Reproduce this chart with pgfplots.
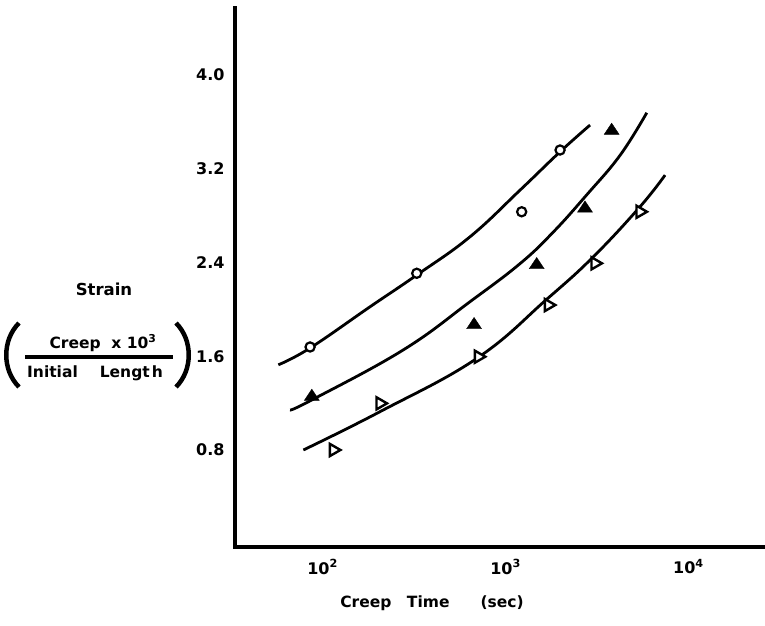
\documentclass[border=0pt]{standalone}
\usepackage{fontspec}
\setmainfont{DejaVu Sans}
\usepackage{pgfplots}
\pgfplotsset{compat=1.18}
\begin{document}
\begin{tikzpicture}[x=1pt,y=1pt]
\useasboundingbox (0,0) rectangle (765,625);
\begin{axis}[
  at={(235pt,78pt)}, anchor=south west,
  scale only axis, width=530pt, height=539pt,
  xmode=log, xmin=33.2, xmax=26200, ymin=-0.028, ymax=4.572,
  axis x line=bottom, axis y line=left,
  axis line style={-, line width=4.5pt, line cap=rect},
  xtick={100,1000,10000},
  xticklabels={10\textsuperscript{2},10\textsuperscript{3},10\textsuperscript{4}},
  ytick={0.8,1.6,2.4,3.2,4.0},
  yticklabels={0.8,1.6,2.4,3.2,4.0},
  tick style={draw=none}, major tick length=0pt, minor tick length=0pt,
  ticklabel style={font=\bfseries\fontsize{16}{18}\selectfont},
  yticklabel style={xshift=-7pt},
  xticklabel style={yshift=-9pt},
  clip=false,
]
% curves
\addplot[line width=2.8pt, smooth, tension=0.7] coordinates {
 (57.3,1.527) (85.4,1.670) (182,2.023) (327,2.293) (640,2.620) (1199,3.017) (1986,3.345) (2897,3.573)};
\addplot[line width=2.8pt, smooth, tension=0.7] coordinates {
 (66.4,1.141) (87.3,1.227) (276,1.654) (640,2.066) (1199,2.390) (1824,2.660) (2780,2.978) (4227,3.315) (5916,3.678)};
\addplot[line width=2.8pt, smooth, tension=0.7] coordinates {
 (78.5,0.800) (206,1.127) (697,1.582) (1679,2.086) (3020,2.449) (5433,2.876) (7447,3.146)};
% markers
\addplot[only marks, mark=*, mark size=4.6pt, mark options={draw=black, fill=white, line width=2.2pt}] coordinates {
 (85.4,1.679) (327,2.308) (1225,2.833) (1986,3.360)};
\addplot[only marks, mark=triangle*, mark size=7.5pt, mark options={draw=black, fill=black, xscale=1.15}] coordinates {
 (87.3,1.255) (673,1.867) (1480,2.379) (2718,2.862) (3802,3.525)};
\addplot[only marks, mark=triangle*, mark size=7pt, mark options={draw=black, fill=white, line width=2.4pt, rotate=-90}] coordinates {
 (114.6,0.80) (206,1.198) (710,1.596) (1714,2.037) (3083,2.393) (5433,2.833)};
\end{axis}
% y label
\node[font=\bfseries\fontsize{16.5}{18}\selectfont] at (104,336) {Strain};
\node[font=\bfseries\fontsize{15.5}{18}\selectfont] at (103,282) {Creep\ \ x\ 10\textsuperscript{3}};
\draw[line width=3.5pt] (25,268) -- (173,268);
\node[font=\bfseries\fontsize{15.5}{18}\selectfont] at (95,252) {Initial\hspace{22pt}Lengt\kern2pt h};
\draw[line width=4.5pt] (19,302) .. controls (2,285) and (2,255) .. (19,238);
\draw[line width=4.5pt] (176,302) .. controls (193,285) and (193,255) .. (176,238);
% x label
\node[font=\bfseries\fontsize{15.5}{18}\selectfont] at (432,22) {Creep\quad Time\qquad (sec)};
\end{tikzpicture}
\end{document}
